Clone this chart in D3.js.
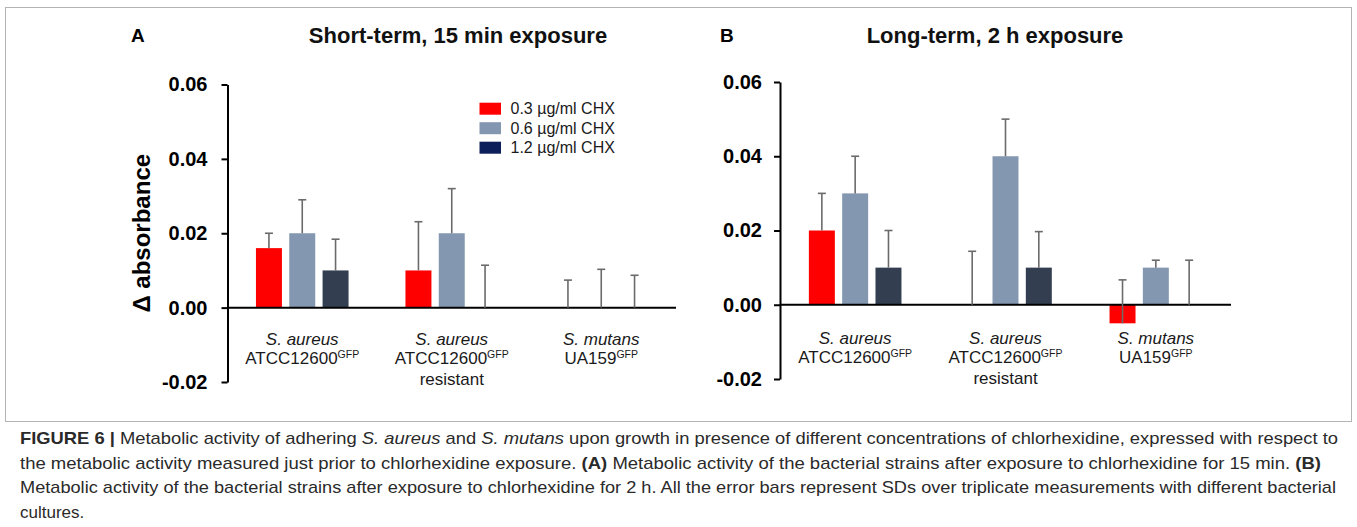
<!DOCTYPE html>
<html><head><meta charset="utf-8">
<script src="https://cdn.jsdelivr.net/npm/d3@7"></script>
<style>
html,body{margin:0;padding:0;background:#fff;}
svg{display:block;font-family:"Liberation Sans",Arial,sans-serif;}
</style></head>
<body>
<svg id="chart" width="1357" height="527"></svg>
<script>
// ---- data ----
const groups = ["aureus", "resistant", "mutans"];
const groupLine1 = ["S. aureus", "S. aureus", "S. mutans"];
const groupLine2 = ["ATCC12600", "ATCC12600", "UA159"];
const groupLine3 = ["", "resistant", ""];
const series = ["0.3 µg/ml CHX", "0.6 µg/ml CHX", "1.2 µg/ml CHX"];
const yTicks = [-0.02, 0.00, 0.02, 0.04, 0.06];
// panel A: short-term, 15 min
const shortMean = [[0.016, 0.020, 0.010], [0.010, 0.020, 0.000], [0.000, 0.000, 0.000]];
const shortSD   = [[0.004, 0.009, 0.0084], [0.0131, 0.012, 0.0114], [0.0074, 0.0103, 0.0087]];
// panel B: long-term, 2 h
const longMean = [[0.020, 0.030, 0.010], [0.000, 0.040, 0.010], [-0.005, 0.010, 0.000]];
const longSD   = [[0.010, 0.010, 0.010], [0.0144, 0.010, 0.0097], [0.0117, 0.002, 0.012]];

const barColors = ["#ff0000", "#8497b0", "#333f50"];
const legendColors = ["#ff0000", "#8497b0", "#0d1f5b"];

const svg = d3.select("#chart");

// frame
svg.append("rect").attr("x", 5.5).attr("y", 7.5).attr("width", 1346).attr("height", 414)
  .attr("fill", "none").attr("stroke", "#b3b3b3").attr("stroke-width", 1);

function panel(opt) {
  const g = svg.append("g");
  const x0 = d3.scaleBand().domain(groups).range([opt.x0, opt.x1]);
  const x1 = d3.scaleBand().domain(series).range([-46.3, 46.3]).paddingInner(0.22);
  const y = d3.scaleLinear().domain([-0.02, 0.06]).range([opt.yBottom, opt.yTop]);

  // letter and title
  g.append("text").attr("x", opt.letterX).attr("y", 42).attr("font-weight", "bold")
    .attr("font-size", 19).attr("fill", "#000").text(opt.letter);
  g.append("text").attr("x", opt.titleX).attr("y", 43).attr("text-anchor", "middle")
    .attr("font-weight", "bold").attr("font-size", 22).attr("fill", "#111").text(opt.title);

  // bars
  const data = [];
  opt.mean.forEach((row, i) => row.forEach((v, j) => data.push({g: groups[i], s: series[j], j, v, sd: opt.sd[i][j]})));
  g.selectAll("rect.bar").data(data.filter(d => d.v !== 0)).join("rect").attr("class", "bar")
    .attr("x", d => x0(d.g) + x0.bandwidth() / 2 + x1(d.s))
    .attr("width", x1.bandwidth())
    .attr("y", d => y(Math.max(0, d.v)))
    .attr("height", d => Math.abs(y(d.v) - y(0)))
    .attr("fill", d => barColors[d.j]);

  // baseline
  g.append("line").attr("x1", opt.x0).attr("x2", opt.x1).attr("y1", y(0)).attr("y2", y(0))
    .attr("stroke", "#000").attr("stroke-width", 2);

  // error bars
  const cx = d => x0(d.g) + x0.bandwidth() / 2 + x1(d.s) + x1.bandwidth() / 2;
  g.selectAll("line.err").data(data).join("line").attr("class", "err")
    .attr("x1", cx).attr("x2", cx).attr("y1", d => y(d.v)).attr("y2", d => y(d.v + d.sd))
    .attr("stroke", "#6b6b6b").attr("stroke-width", 1.6);
  g.selectAll("line.cap").data(data).join("line").attr("class", "cap")
    .attr("x1", d => cx(d) - 4).attr("x2", d => cx(d) + 4)
    .attr("y1", d => y(d.v + d.sd)).attr("y2", d => y(d.v + d.sd))
    .attr("stroke", "#6b6b6b").attr("stroke-width", 1.6);

  // y axis
  const ax = g.append("g").attr("transform", `translate(${opt.x0},0)`)
    .call(d3.axisLeft(y).tickValues(yTicks).tickFormat(d3.format(".2f")).tickSize(6).tickSizeOuter(0));
  ax.select(".domain").attr("stroke", "#000").attr("stroke-width", 2);
  ax.selectAll(".tick line").attr("stroke", "#000").attr("stroke-width", 2);
  ax.selectAll(".tick text").attr("font-family", "Liberation Sans, Arial, sans-serif")
    .attr("font-size", 20).attr("font-weight", "bold").attr("fill", "#000").attr("x", -opt.tickGap)
    .text(d => d < 0 ? "-" + d3.format(".2f")(-d) : d3.format(".2f")(d));

  // category labels
  groups.forEach((k, i) => {
    const gx = x0(k) + x0.bandwidth() / 2;
    const base = y(0) + opt.labOff;
    g.append("text").attr("x", gx).attr("y", base).attr("text-anchor", "middle")
      .attr("font-style", "italic").attr("font-size", 17).attr("fill", "#1a1a1a").text(groupLine1[i]);
    const t2 = g.append("text").attr("x", gx).attr("y", base + 19.5).attr("text-anchor", "middle")
      .attr("font-size", 17).attr("fill", "#1a1a1a");
    t2.append("tspan").text(groupLine2[i]);
    t2.append("tspan").attr("font-size", 10.5).attr("dy", -6).text("GFP");
    if (groupLine3[i]) {
      g.append("text").attr("x", gx).attr("y", base + 40).attr("text-anchor", "middle")
        .attr("font-size", 17).attr("fill", "#1a1a1a").text(groupLine3[i]);
    }
  });

  // y label
  if (opt.ylabel) {
    g.append("text").attr("transform", `translate(150,${(opt.yTop + opt.yBottom) / 2}) rotate(-90)`)
      .attr("text-anchor", "middle").attr("font-weight", "bold").attr("font-size", 24)
      .attr("fill", "#000").text("Δ absorbance");
  }

  // legend
  if (opt.legend) {
    series.forEach((s, j) => {
      const ly = 102.7 + j * 19.5;
      g.append("rect").attr("x", 479.5).attr("y", ly).attr("width", 21.5).attr("height", 12)
        .attr("fill", legendColors[j]);
      g.append("text").attr("x", 510.5).attr("y", ly + 11.5).attr("font-size", 16)
        .attr("fill", "#1a1a1a").text(s);
    });
  }
}

panel({letter: "A", letterX: 131, title: "Short-term, 15 min exposure", titleX: 458,
  x0: 227.5, x1: 676, yTop: 84.5, yBottom: 382, mean: shortMean, sd: shortSD,
  tickGap: 20, labOff: 37, ylabel: true, legend: true});
panel({letter: "B", letterX: 720, title: "Long-term, 2 h exposure", titleX: 995,
  x0: 780, x1: 1231, yTop: 82, yBottom: 379, mean: longMean, sd: longSD,
  tickGap: 18, labOff: 39, ylabel: false, legend: false});

// caption
const capLines = [
  [["b", "FIGURE 6 | "], ["n", "Metabolic activity of adhering "], ["i", "S. aureus"], ["n", " and "], ["i", "S. mutans"], ["n", " upon growth in presence of different concentrations of chlorhexidine, expressed with respect to"]],
  [["n", "the metabolic activity measured just prior to chlorhexidine exposure. "], ["b", "(A)"], ["n", " Metabolic activity of the bacterial strains after exposure to chlorhexidine for 15 min. "], ["b", "(B)"]],
  [["n", "Metabolic activity of the bacterial strains after exposure to chlorhexidine for 2 h. All the error bars represent SDs over triplicate measurements with different bacterial"]],
  [["n", "cultures."]]
];
const capWidths = [1318, 1301, 1316, null];
capLines.forEach((parts, i) => {
  const t = svg.append("text").attr("x", 20).attr("y", 444 + i * 24.7)
    .attr("font-family", "'Liberation Sans',Arial,sans-serif")
    .attr("font-size", 17).attr("fill", "#2a2a2a");
  if (capWidths[i]) t.attr("textLength", capWidths[i]).attr("lengthAdjust", "spacingAndGlyphs");
  parts.forEach(([k, s]) => {
    const sp = t.append("tspan").text(s);
    if (k === "b") sp.attr("font-weight", "bold");
    if (k === "i") sp.attr("font-style", "italic");
  });
});
</script>
</body></html>
